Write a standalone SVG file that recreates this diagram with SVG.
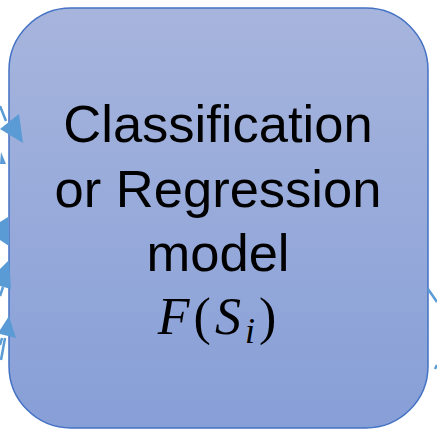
<svg xmlns="http://www.w3.org/2000/svg" width="437" height="434" viewBox="0 0 437 434">
<defs>
<linearGradient id="g" x1="0" y1="0" x2="0" y2="1">
<stop offset="0" stop-color="#A7B5DD"/>
<stop offset="1" stop-color="#879FD7"/>
</linearGradient>
<style>
.lbl{font-family:"Liberation Sans",Arial,sans-serif;font-size:52.5px;fill:#000;text-anchor:middle}
.math{font-family:"Liberation Serif","Times New Roman",serif;font-size:52px;fill:#000}
.ah{fill:#5B9BD5;stroke:none}
.ln{stroke:#5B9BD5;stroke-width:2.5;fill:none}
</style>
</defs>
<g id="model">
<rect x="9" y="8" width="419" height="420" rx="62" ry="62" fill="url(#g)" stroke="#4472C4" stroke-width="1.5"/>
<text class="lbl" x="218" y="142">Classification</text>
<text class="lbl" x="218" y="207">or Regression</text>
<text class="lbl" x="218" y="271">model</text>
<text class="math" x="219" y="334" text-anchor="middle" letter-spacing="4"><tspan font-style="italic">F</tspan><tspan>(</tspan><tspan font-style="italic">S</tspan><tspan font-style="italic" font-size="36px" dy="9">i</tspan><tspan dy="-9">)</tspan></text>
</g>
<g id="connectors">
<line class="ln" x1="0" y1="106" x2="6" y2="121"/>
<polygon class="ah" points="0,129 19,114 23,143"/>
<polygon class="ah" points="1,152 6,164 0,164"/>
<polygon class="ah" points="0,222 8,217 9,246 0,240"/>
<polygon class="ah" points="9,260 0,269 0,286 11,289"/>
<line class="ln" x1="3" y1="287" x2="0" y2="296"/>
<polygon class="ah" points="9,316 0,330 0,334 16,338"/>
<line class="ln" x1="5" y1="338" x2="1" y2="360"/>
<line class="ln" x1="2" y1="338" x2="0" y2="345"/>
<line class="ln" x1="428" y1="289" x2="437" y2="302"/>
<line class="ln" x1="435" y1="369" x2="437" y2="365"/>
</g>
</svg>
